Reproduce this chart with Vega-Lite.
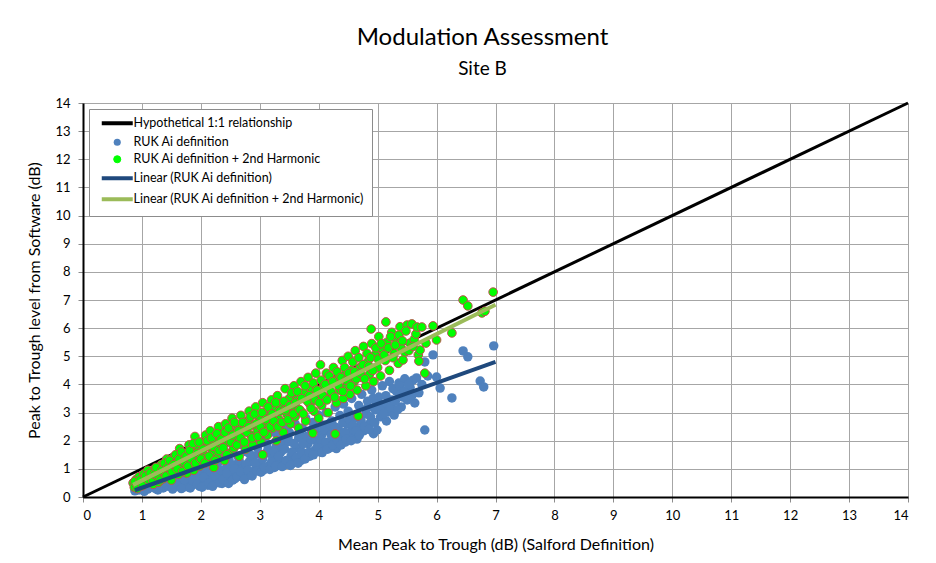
{
  "$schema": "https://vega.github.io/schema/vega-lite/v6.json",
  "width": 825,
  "height": 394,
  "autosize": "none",
  "padding": {"left": 83, "top": 103, "right": 28, "bottom": 66},
  "background": "white",
  "title": {
    "text": "Modulation Assessment",
    "subtitle": "Site B",
    "font": "Lato",
    "subtitleFont": "Lato",
    "fontSize": 24,
    "subtitleFontSize": 19,
    "fontWeight": "normal",
    "subtitleFontWeight": "normal",
    "color": "black",
    "subtitleColor": "black",
    "anchor": "middle",
    "dx": -13,
    "offset": 18,
    "subtitlePadding": 10
  },
  "datasets": {
    "ref": [{"x": 0, "y": 0}, {"x": 14, "y": 14}],
    "fitb": [{"x": 0.88, "y": 0.24}, {"x": 7.0, "y": 4.8}],
    "fitg": [{"x": 0.85, "y": 0.43}, {"x": 7.0, "y": 6.83}],
    "blue": [
      {"x":0.88,"y":0.22},{"x":0.9,"y":0.3},{"x":0.92,"y":0.45},{"x":0.95,"y":0.25},{"x":0.98,"y":0.38},{"x":1.0,"y":0.55},{"x":1.02,"y":0.3},{"x":1.05,"y":0.42},{"x":1.08,"y":0.62},{"x":1.1,"y":0.28},{"x":1.12,"y":0.5},{"x":1.15,"y":0.35},{"x":1.18,"y":0.72},{"x":1.2,"y":0.45},
      {"x":1.23,"y":0.3},{"x":1.25,"y":0.6},{"x":1.28,"y":0.85},{"x":1.3,"y":0.4},{"x":1.33,"y":0.68},{"x":1.36,"y":0.32},{"x":1.4,"y":0.55},{"x":1.42,"y":0.95},{"x":1.45,"y":0.38},{"x":1.48,"y":0.75},{"x":1.5,"y":0.5},{"x":1.53,"y":1.05},{"x":1.56,"y":0.35},{"x":1.58,"y":0.82},
      {"x":1.62,"y":0.6},{"x":1.65,"y":0.4},{"x":1.68,"y":1.1},{"x":1.7,"y":0.75},{"x":1.73,"y":0.36},{"x":1.76,"y":0.95},{"x":1.8,"y":0.55},{"x":1.83,"y":1.25},{"x":1.85,"y":0.42},{"x":1.88,"y":0.85},{"x":1.92,"y":0.65},{"x":1.95,"y":1.2},{"x":1.98,"y":0.38},{"x":2.0,"y":1.0},
      {"x":2.03,"y":0.55},{"x":2.06,"y":1.35},{"x":2.1,"y":0.8},{"x":2.12,"y":0.42},{"x":2.15,"y":1.1},{"x":2.18,"y":0.65},{"x":2.22,"y":1.45},{"x":2.25,"y":0.5},{"x":2.28,"y":0.95},{"x":2.3,"y":1.25},{"x":2.33,"y":0.7},{"x":2.36,"y":0.48},{"x":2.4,"y":1.55},
      {"x":2.42,"y":1.0},{"x":2.45,"y":0.6},{"x":2.48,"y":1.3},{"x":2.52,"y":0.82},{"x":2.55,"y":1.7},{"x":2.58,"y":0.65},{"x":2.6,"y":1.15},{"x":2.63,"y":1.45},{"x":2.66,"y":0.75},{"x":2.7,"y":1.85},{"x":2.72,"y":1.05},{"x":2.75,"y":0.78},{"x":2.78,"y":1.6},
      {"x":2.82,"y":1.25},{"x":2.85,"y":0.85},{"x":2.88,"y":2.0},{"x":2.9,"y":1.45},{"x":2.93,"y":1.0},{"x":2.96,"y":1.75},{"x":3.0,"y":1.2},{"x":3.03,"y":2.1},{"x":3.06,"y":0.95},{"x":3.1,"y":1.55},{"x":3.12,"y":1.9},{"x":3.15,"y":1.1},{"x":3.18,"y":2.3},
      {"x":3.22,"y":1.4},{"x":3.25,"y":1.05},{"x":3.28,"y":1.8},{"x":3.3,"y":2.2},{"x":3.33,"y":1.25},{"x":3.36,"y":1.6},{"x":3.4,"y":2.45},{"x":3.43,"y":1.15},{"x":3.46,"y":1.95},{"x":3.5,"y":2.3},{"x":3.53,"y":1.45},{"x":3.56,"y":1.2},{"x":3.6,"y":2.6},
      {"x":3.63,"y":1.75},{"x":3.66,"y":2.1},{"x":3.7,"y":1.3},{"x":3.72,"y":2.45},{"x":3.75,"y":1.55},{"x":3.78,"y":2.8},{"x":3.82,"y":1.9},{"x":3.85,"y":1.45},{"x":3.88,"y":2.3},{"x":3.9,"y":2.65},{"x":3.93,"y":1.65},{"x":3.96,"y":2.0},{"x":4.0,"y":2.9},
      {"x":4.02,"y":1.6},{"x":4.05,"y":2.2},{"x":4.08,"y":2.55},{"x":4.1,"y":1.8},{"x":4.13,"y":3.0},{"x":4.16,"y":2.35},{"x":4.2,"y":1.75},{"x":4.22,"y":2.7},{"x":4.25,"y":2.05},{"x":4.28,"y":3.2},{"x":4.3,"y":1.72},{"x":4.33,"y":2.45},{"x":4.36,"y":2.9},{"x":4.4,"y":2.15},
      {"x":4.42,"y":3.3},{"x":4.45,"y":1.95},{"x":4.48,"y":2.6},{"x":4.5,"y":3.05},{"x":4.53,"y":2.3},{"x":4.56,"y":3.5},{"x":4.6,"y":2.1},{"x":4.62,"y":2.8},{"x":4.65,"y":2.06},{"x":4.68,"y":3.25},{"x":4.7,"y":2.5},{"x":4.73,"y":3.65},{"x":4.76,"y":2.35},{"x":4.8,"y":2.95},
      {"x":4.83,"y":3.4},{"x":4.86,"y":2.6},{"x":4.9,"y":3.8},{"x":4.93,"y":2.25},{"x":4.96,"y":3.1},{"x":4.99,"y":2.38},{"x":5.02,"y":3.55},{"x":5.05,"y":2.85},{"x":5.08,"y":3.95},{"x":5.12,"y":3.25},{"x":5.15,"y":2.7},{"x":5.18,"y":3.02},{"x":5.2,"y":4.1},{"x":5.24,"y":3.45},{"x":5.28,"y":2.91},
      {"x":5.32,"y":3.75},{"x":5.36,"y":4.05},{"x":5.4,"y":3.2},{"x":5.43,"y":3.55},{"x":5.46,"y":4.2},{"x":5.5,"y":3.45},{"x":5.55,"y":3.9},{"x":5.6,"y":4.15},{"x":5.63,"y":3.34},{"x":5.66,"y":4.23},{"x":5.7,"y":3.7},{"x":5.75,"y":4.0},{"x":5.8,"y":2.38},{"x":5.8,"y":4.8},{"x":5.85,"y":4.3},
      {"x":5.94,"y":5.05},{"x":6.0,"y":4.26},{"x":6.06,"y":3.87},{"x":6.26,"y":3.52},{"x":6.45,"y":5.19},{"x":6.53,"y":4.98},{"x":6.74,"y":4.12},{"x":6.8,"y":3.91},{"x":6.97,"y":5.37},
      {"x":1.0,"y":0.42},{"x":1.04,"y":0.2},{"x":1.14,"y":0.6},{"x":1.22,"y":0.48},{"x":1.27,"y":0.25},{"x":1.35,"y":0.5},{"x":1.38,"y":0.78},{"x":1.44,"y":0.62},{"x":1.52,"y":0.28},{"x":1.55,"y":0.68},{"x":1.6,"y":0.45},{"x":1.63,"y":0.9},{"x":1.67,"y":0.3},{"x":1.72,"y":0.62},{"x":1.78,"y":0.8},{"x":1.82,"y":0.32},{"x":1.87,"y":0.58},{"x":1.9,"y":1.05},{"x":1.94,"y":0.45},{"x":1.97,"y":0.8},
      {"x":2.02,"y":0.35},{"x":2.05,"y":0.7},{"x":2.08,"y":1.1},{"x":2.14,"y":0.5},{"x":2.17,"y":0.9},{"x":2.2,"y":0.38},{"x":2.24,"y":0.75},{"x":2.27,"y":1.2},{"x":2.32,"y":0.5},{"x":2.35,"y":0.95},{"x":2.38,"y":0.62},{"x":2.44,"y":0.85},{"x":2.47,"y":0.48},{"x":2.5,"y":1.15},{"x":2.54,"y":0.6},{"x":2.57,"y":1.0},{"x":2.62,"y":0.72},{"x":2.65,"y":1.3},{"x":2.68,"y":0.9},{"x":2.74,"y":0.62},{"x":2.77,"y":1.15},{"x":2.8,"y":0.95},
      {"x":2.84,"y":1.5},{"x":2.87,"y":0.75},{"x":2.92,"y":1.2},{"x":2.95,"y":0.92},{"x":2.98,"y":1.55},{"x":3.02,"y":0.88},{"x":3.05,"y":1.35},{"x":3.08,"y":1.05},{"x":3.14,"y":1.7},{"x":3.17,"y":0.98},{"x":3.2,"y":1.25},{"x":3.24,"y":1.6},{"x":3.27,"y":1.1},{"x":3.32,"y":1.45},{"x":3.35,"y":1.95},{"x":3.38,"y":1.08},{"x":3.42,"y":1.7},{"x":3.45,"y":1.3},{"x":3.48,"y":2.1},
      {"x":3.52,"y":1.12},{"x":3.55,"y":1.6},{"x":3.58,"y":1.9},{"x":3.62,"y":1.4},{"x":3.65,"y":1.2},{"x":3.68,"y":2.3},{"x":3.71,"y":1.6},{"x":3.74,"y":1.9},{"x":3.77,"y":1.35},{"x":3.8,"y":2.15},{"x":3.84,"y":1.6},{"x":3.87,"y":2.05},{"x":3.91,"y":1.5},{"x":3.94,"y":2.4},{"x":3.98,"y":1.8},
      {"x":4.03,"y":2.05},{"x":4.06,"y":1.58},{"x":4.09,"y":2.4},{"x":4.12,"y":1.95},{"x":4.15,"y":1.7},{"x":4.18,"y":2.6},{"x":4.21,"y":2.2},{"x":4.24,"y":1.85},{"x":4.27,"y":2.5},{"x":4.32,"y":2.0},{"x":4.35,"y":2.3},{"x":4.38,"y":1.85},{"x":4.41,"y":2.65},{"x":4.44,"y":2.3},{"x":4.47,"y":2.05},
      {"x":4.52,"y":2.75},{"x":4.55,"y":2.0},{"x":4.58,"y":2.55},{"x":4.63,"y":2.35},{"x":4.66,"y":2.9},{"x":4.69,"y":2.2},{"x":4.72,"y":2.7},{"x":4.78,"y":2.5},{"x":4.82,"y":3.15},{"x":4.85,"y":2.4},{"x":4.88,"y":2.85},{"x":4.92,"y":3.5},{"x":4.95,"y":2.65},{"x":4.98,"y":3.3},
      {"x":5.04,"y":3.1},{"x":5.1,"y":2.95},{"x":5.14,"y":3.6},{"x":5.22,"y":3.2},{"x":5.26,"y":3.85},{"x":5.3,"y":3.4},{"x":5.34,"y":3.1},{"x":5.38,"y":3.95},{"x":5.45,"y":3.75},{"x":5.52,"y":4.0},{"x":5.58,"y":3.6}
    ],
    "green": [
      {"x":0.85,"y":0.5},{"x":0.87,"y":0.35},{"x":0.9,"y":0.62},{"x":0.93,"y":0.45},{"x":0.95,"y":0.72},{"x":0.98,"y":0.4},{"x":1.0,"y":0.58},{"x":1.03,"y":0.82},{"x":1.05,"y":0.48},{"x":1.08,"y":0.68},{"x":1.1,"y":0.95},{"x":1.13,"y":0.55},{"x":1.16,"y":0.78},{"x":1.19,"y":0.45},
      {"x":1.22,"y":1.0},{"x":1.25,"y":0.7},{"x":1.28,"y":0.52},{"x":1.3,"y":0.9},{"x":1.33,"y":1.15},{"x":1.36,"y":0.65},{"x":1.4,"y":0.95},{"x":1.42,"y":1.35},{"x":1.45,"y":0.78},{"x":1.48,"y":1.1},{"x":1.5,"y":0.6},{"x":1.53,"y":1.4},{"x":1.56,"y":0.95},{"x":1.58,"y":1.2},
      {"x":1.62,"y":0.8},{"x":1.64,"y":1.72},{"x":1.66,"y":1.3},{"x":1.7,"y":1.05},{"x":1.73,"y":1.55},{"x":1.76,"y":0.85},{"x":1.8,"y":1.85},{"x":1.82,"y":1.25},{"x":1.85,"y":1.6},{"x":1.88,"y":0.95},{"x":1.9,"y":2.15},{"x":1.93,"y":1.4},{"x":1.96,"y":1.75},{"x":1.98,"y":1.1},
      {"x":2.02,"y":1.95},{"x":2.05,"y":1.5},{"x":2.08,"y":2.2},{"x":2.1,"y":1.25},{"x":2.13,"y":1.8},{"x":2.16,"y":2.35},{"x":2.2,"y":1.6},{"x":2.22,"y":1.05},{"x":2.25,"y":2.05},{"x":2.28,"y":1.4},{"x":2.3,"y":2.5},{"x":2.33,"y":1.85},{"x":2.36,"y":2.2},{"x":2.4,"y":1.3},
      {"x":2.42,"y":2.6},{"x":2.45,"y":1.95},{"x":2.48,"y":1.55},{"x":2.5,"y":2.35},{"x":2.53,"y":2.8},{"x":2.56,"y":1.75},{"x":2.6,"y":2.15},{"x":2.62,"y":2.55},{"x":2.65,"y":1.45},{"x":2.68,"y":2.9},{"x":2.7,"y":2.0},{"x":2.73,"y":2.4},{"x":2.76,"y":1.7},{"x":2.8,"y":2.7},
      {"x":2.82,"y":3.05},{"x":2.85,"y":2.2},{"x":2.88,"y":1.85},{"x":2.9,"y":2.55},{"x":2.93,"y":3.2},{"x":2.96,"y":2.35},{"x":3.0,"y":2.8},{"x":3.02,"y":1.95},{"x":3.05,"y":3.35},{"x":3.05,"y":1.5},{"x":3.08,"y":2.6},{"x":3.1,"y":3.0},{"x":3.13,"y":2.2},{"x":3.16,"y":2.85},{"x":3.2,"y":3.45},
      {"x":3.22,"y":2.45},{"x":3.25,"y":3.1},{"x":3.28,"y":2.0},{"x":3.3,"y":3.6},{"x":3.33,"y":2.75},{"x":3.36,"y":3.3},{"x":3.4,"y":2.3},{"x":3.43,"y":3.85},{"x":3.46,"y":2.95},{"x":3.5,"y":3.5},{"x":3.52,"y":2.6},{"x":3.55,"y":3.15},{"x":3.58,"y":3.95},{"x":3.6,"y":2.85},
      {"x":3.63,"y":3.45},{"x":3.66,"y":2.45},{"x":3.7,"y":4.1},{"x":3.72,"y":3.0},{"x":3.75,"y":3.7},{"x":3.78,"y":2.7},{"x":3.82,"y":4.25},{"x":3.85,"y":3.3},{"x":3.88,"y":3.85},{"x":3.9,"y":2.27},{"x":3.92,"y":3.05},{"x":3.95,"y":4.4},{"x":3.98,"y":3.55},{"x":4.0,"y":2.8},
      {"x":4.03,"y":4.7},{"x":4.05,"y":3.25},{"x":4.08,"y":3.9},{"x":4.1,"y":3.55},{"x":4.13,"y":4.4},{"x":4.16,"y":3.0},{"x":4.2,"y":4.05},{"x":4.22,"y":3.65},{"x":4.25,"y":4.6},{"x":4.28,"y":2.24},{"x":4.3,"y":3.35},{"x":4.33,"y":4.2},{"x":4.36,"y":3.8},{"x":4.4,"y":4.85},
      {"x":4.42,"y":3.5},{"x":4.45,"y":4.35},{"x":4.48,"y":3.95},{"x":4.5,"y":5.0},{"x":4.53,"y":3.65},{"x":4.56,"y":4.5},{"x":4.6,"y":4.1},{"x":4.62,"y":5.2},{"x":4.65,"y":3.8},{"x":4.67,"y":2.88},{"x":4.7,"y":4.6},{"x":4.73,"y":4.25},{"x":4.76,"y":5.35},{"x":4.8,"y":3.95},
      {"x":4.83,"y":4.8},{"x":4.86,"y":4.35},{"x":4.89,"y":5.97},{"x":4.9,"y":5.45},{"x":4.93,"y":4.1},{"x":4.96,"y":5.05},{"x":5.0,"y":4.6},{"x":5.02,"y":5.7},{"x":5.05,"y":4.3},{"x":5.08,"y":5.25},{"x":5.14,"y":6.22},{"x":5.13,"y":4.85},{"x":5.16,"y":5.5},{"x":5.2,"y":4.5},{"x":5.24,"y":5.85},{"x":5.28,"y":5.1},
      {"x":5.32,"y":5.6},{"x":5.35,"y":4.75},{"x":5.38,"y":6.05},{"x":5.4,"y":5.3},{"x":5.43,"y":4.87},{"x":5.46,"y":5.15},{"x":5.5,"y":6.11},{"x":5.55,"y":5.47},{"x":5.58,"y":6.15},{"x":5.62,"y":5.6},{"x":5.65,"y":5.79},{"x":5.67,"y":6.04},{"x":5.69,"y":5.05},{"x":5.7,"y":4.83},{"x":5.72,"y":5.22},{"x":5.75,"y":6.04},{"x":5.8,"y":4.4},{"x":5.82,"y":5.47},
      {"x":5.94,"y":6.08},{"x":6.0,"y":5.58},{"x":6.26,"y":5.83},{"x":6.45,"y":7.0},{"x":6.53,"y":6.79},{"x":6.77,"y":6.54},{"x":6.82,"y":6.6},{"x":6.96,"y":7.28},
      {"x":0.88,"y":0.55},{"x":0.92,"y":0.3},{"x":0.97,"y":0.6},{"x":1.01,"y":0.4},{"x":1.06,"y":0.75},{"x":1.11,"y":0.62},{"x":1.14,"y":0.85},{"x":1.18,"y":0.6},{"x":1.21,"y":0.8},{"x":1.24,"y":1.05},{"x":1.27,"y":0.75},{"x":1.31,"y":0.6},{"x":1.34,"y":0.95},{"x":1.38,"y":1.2},{"x":1.41,"y":0.75},{"x":1.44,"y":1.05},{"x":1.47,"y":1.3},{"x":1.51,"y":0.9},{"x":1.54,"y":1.15},{"x":1.57,"y":1.5},
      {"x":1.6,"y":1.0},{"x":1.63,"y":1.35},{"x":1.67,"y":1.6},{"x":1.69,"y":0.9},{"x":1.72,"y":1.25},{"x":1.75,"y":1.45},{"x":1.78,"y":1.1},{"x":1.81,"y":1.65},{"x":1.84,"y":1.35},{"x":1.87,"y":1.9},{"x":1.91,"y":1.2},{"x":1.94,"y":1.55},{"x":1.97,"y":1.95},{"x":2.0,"y":1.35},{"x":2.04,"y":1.7},{"x":2.07,"y":1.2},{"x":2.11,"y":2.0},{"x":2.14,"y":1.45},{"x":2.18,"y":2.1},{"x":2.21,"y":1.8},
      {"x":2.24,"y":1.3},{"x":2.27,"y":2.25},{"x":2.31,"y":1.65},{"x":2.34,"y":2.05},{"x":2.38,"y":1.75},{"x":2.41,"y":2.3},{"x":2.44,"y":1.5},{"x":2.47,"y":2.45},{"x":2.51,"y":1.95},{"x":2.54,"y":2.2},{"x":2.57,"y":2.65},{"x":2.61,"y":1.85},{"x":2.64,"y":2.35},{"x":2.67,"y":2.1},{"x":2.71,"y":2.65},{"x":2.74,"y":1.95},{"x":2.78,"y":2.3},{"x":2.81,"y":2.5},{"x":2.84,"y":2.85},{"x":2.87,"y":2.1},
      {"x":2.91,"y":2.95},{"x":2.94,"y":2.6},{"x":2.97,"y":2.15},{"x":3.01,"y":2.5},{"x":3.04,"y":3.0},{"x":3.07,"y":2.3},{"x":3.11,"y":2.75},{"x":3.14,"y":3.2},{"x":3.18,"y":2.5},{"x":3.21,"y":2.95},{"x":3.24,"y":2.7},{"x":3.27,"y":3.35},{"x":3.31,"y":2.5},{"x":3.34,"y":3.05},{"x":3.38,"y":2.65},{"x":3.41,"y":3.4},{"x":3.44,"y":3.1},{"x":3.48,"y":2.75},{"x":3.51,"y":3.25},{"x":3.54,"y":3.7},
      {"x":3.57,"y":2.95},{"x":3.61,"y":3.35},{"x":3.64,"y":3.75},{"x":3.68,"y":3.1},{"x":3.71,"y":3.5},{"x":3.74,"y":2.95},{"x":3.77,"y":3.95},{"x":3.81,"y":3.4},{"x":3.84,"y":3.6},{"x":3.87,"y":3.15},{"x":3.91,"y":4.05},{"x":3.94,"y":3.45},{"x":3.97,"y":3.8},{"x":4.01,"y":3.35},{"x":4.04,"y":4.15},{"x":4.07,"y":3.6},{"x":4.11,"y":4.0},{"x":4.14,"y":3.45},{"x":4.18,"y":4.3},{"x":4.21,"y":3.75},
      {"x":4.24,"y":4.1},{"x":4.27,"y":3.55},{"x":4.31,"y":4.45},{"x":4.34,"y":3.95},{"x":4.38,"y":4.25},{"x":4.41,"y":3.75},{"x":4.44,"y":4.6},{"x":4.47,"y":4.15},{"x":4.51,"y":4.4},{"x":4.54,"y":3.95},{"x":4.58,"y":4.8},{"x":4.61,"y":4.45},{"x":4.64,"y":4.2},{"x":4.68,"y":4.95},{"x":4.71,"y":4.4},{"x":4.75,"y":4.7},{"x":4.78,"y":4.2},{"x":4.82,"y":5.1},{"x":4.85,"y":4.65},{"x":4.88,"y":4.95},
      {"x":4.92,"y":4.5},{"x":4.97,"y":5.3},{"x":5.01,"y":4.9},{"x":5.06,"y":5.45},{"x":5.11,"y":5.05},{"x":5.18,"y":5.3},{"x":5.22,"y":5.7},{"x":5.26,"y":4.95},{"x":5.3,"y":5.4},{"x":5.36,"y":5.75},{"x":5.42,"y":5.55},{"x":5.48,"y":5.9},{"x":5.53,"y":5.2},{"x":5.6,"y":5.35}
    ]
  },
  "encoding": {
    "x": {
      "field": "x", "type": "quantitative",
      "scale": {"domain": [0, 14], "nice": false, "zero": false},
      "axis": {"values": [0,1,2,3,4,5,6,7,8,9,10,11,12,13,14], "title": "Mean Peak to Trough (dB) (Salford Definition)", "titlePadding": 14}
    },
    "y": {
      "field": "y", "type": "quantitative",
      "scale": {"domain": [0, 14], "nice": false, "zero": false},
      "axis": {"values": [0,1,2,3,4,5,6,7,8,9,10,11,12,13,14], "title": "Peak to Trough level from Software (dB)", "titlePadding": 12}
    }
  },
  "layer": [
    {
      "data": {"name": "ref"},
      "mark": {"type": "line", "strokeWidth": 3},
      "encoding": {
        "color": {
          "datum": "Hypothetical 1:1 relationship",
          "scale": {
            "domain": ["Hypothetical 1:1 relationship", "RUK Ai definition", "RUK Ai definition + 2nd Harmonic", "Linear (RUK Ai definition)", "Linear (RUK Ai definition + 2nd Harmonic)"],
            "range": ["black", "#4f81bd", "#00ff00", "#1f497d", "#9bbb59"]
          },
          "legend": {
            "title": null,
            "orient": "top-left",
            "offset": 6,
            "fillColor": "white",
            "strokeColor": "#8c8c8c",
            "padding": 8,
            "labelFont": "Lato",
            "labelFontSize": 12.5,
            "labelColor": "black",
            "labelLimit": 400,
            "labelOffset": 10,
            "symbolOffset": 14,
            "rowPadding": 4,
            "symbolSize": 961,
            "symbolStrokeWidth": 4,
            "encode": {
              "symbols": {
                "update": {
                  "shape": {"signal": "(datum.value === 'RUK Ai definition' || datum.value === 'RUK Ai definition + 2nd Harmonic') ? 'circle' : 'stroke'"},
                  "size": {"signal": "(datum.value === 'RUK Ai definition' || datum.value === 'RUK Ai definition + 2nd Harmonic') ? 50 : 961"},
                  "fill": {"signal": "datum.value === 'RUK Ai definition' ? '#4f81bd' : (datum.value === 'RUK Ai definition + 2nd Harmonic' ? '#00ff00' : 'transparent')"},
                  "stroke": {"signal": "datum.value === 'Hypothetical 1:1 relationship' ? 'black' : (datum.value === 'RUK Ai definition' ? '#4f81bd' : (datum.value === 'RUK Ai definition + 2nd Harmonic' ? '#c0504d' : (datum.value === 'Linear (RUK Ai definition)' ? '#1f497d' : '#9bbb59')))"},
                  "strokeWidth": {"signal": "datum.value === 'RUK Ai definition' ? 0 : (datum.value === 'RUK Ai definition + 2nd Harmonic' ? 1 : 4)"},
                  "opacity": {"value": 1}
                }
              }
            }
          }
        }
      }
    },
    {
      "data": {"name": "blue"},
      "mark": {"type": "circle", "size": 90, "opacity": 1},
      "encoding": {"color": {"datum": "RUK Ai definition"}}
    },
    {
      "data": {"name": "green"},
      "mark": {"type": "point", "shape": "circle", "filled": true, "size": 75, "opacity": 1, "strokeWidth": 1},
      "encoding": {
        "color": {"datum": "RUK Ai definition + 2nd Harmonic"},
        "stroke": {"value": "#c0504d"}
      }
    },
    {
      "data": {"name": "fitb"},
      "mark": {"type": "line", "strokeWidth": 4},
      "encoding": {"color": {"datum": "Linear (RUK Ai definition)"}}
    },
    {
      "data": {"name": "fitg"},
      "mark": {"type": "line", "strokeWidth": 4},
      "encoding": {"color": {"datum": "Linear (RUK Ai definition + 2nd Harmonic)"}}
    }
  ],
  "config": {
    "font": "Lato",
    "view": {"stroke": null},
    "axis": {
      "grid": true,
      "gridColor": "#a6a6a6",
      "gridWidth": 1,
      "domainColor": "black",
      "domainWidth": 2,
      "tickColor": "#8c8c8c",
      "tickSize": 5,
      "labelFont": "Lato",
      "labelFontSize": 13,
      "labelColor": "black",
      "labelPadding": 7,
      "titleFont": "Lato",
      "titleFontSize": 16,
      "titleFontWeight": "normal",
      "titleColor": "black"
    },
    "axisY": {"labelPadding": 8}
  }
}
